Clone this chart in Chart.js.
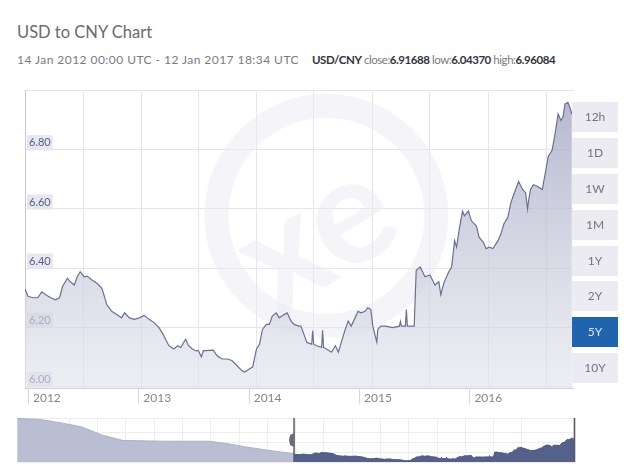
<!DOCTYPE html>
<html>
<head>
<meta charset="utf-8">
<title>USD to CNY Chart</title>
<script src="https://cdn.jsdelivr.net/npm/chart.js@4.4.1/dist/chart.umd.min.js"></script>
<style>
    html, body { margin: 0; padding: 0; background: #fff; }
    body { width: 640px; height: 476px; position: relative; overflow: hidden; font-family: Lato, "Open Sans", sans-serif; }
    .title { position: absolute; left: 17px; top: 22px; font-size: 16.5px; color: #6a6a72; }
    .sub { position: absolute; left: 17px; top: 52px; font-size: 12px; color: #7a7a82; white-space: nowrap; letter-spacing: 0.45px; }
    .sub b { color: #33333b; }
    .sub .pair { margin-left: 13px; font-size: 11.5px; letter-spacing: -0.45px; }
    .main { position: absolute; left: 0; top: 80px; width: 580px; height: 335px; }
    .nav { position: absolute; left: 0; top: 412px; width: 580px; height: 56px; }
    .ranges { position: absolute; left: 572px; top: 102px; width: 46px; }
    .ranges div { height: 30px; line-height: 30px; margin-bottom: 5.9px; text-align: center; font-size: 12px; color: #74747e; background: #ebebf1; }
    .ranges div.on { background: #1f64ad; color: #d9e7f6; }
</style>
</head>
<body>
<div class="title">USD to CNY Chart</div>
<div class="sub">14 Jan 2012 00:00 UTC - 12 Jan 2017 18:34 UTC<span class="pair"><b>USD/CNY</b> close:<b>6.91688</b> low:<b>6.04370</b> high:<b>6.96084</b></span></div>
<div class="main"><canvas id="rateChart"></canvas></div>
<div class="nav"><canvas id="navChart"></canvas></div>
<div class="ranges">
    <div>12h</div><div>1D</div><div>1W</div><div>1M</div><div>1Y</div><div>2Y</div><div class="on">5Y</div><div>10Y</div>
</div>
<script>
// USD/CNY, 5 years (x = decimal year)
var rateDates = [
    2011.973, 2012.000, 2012.045, 2012.089, 2012.125, 2012.161, 2012.205, 2012.250, 2012.286, 2012.313,
    2012.357, 2012.384, 2012.420, 2012.446, 2012.473, 2012.509, 2012.536, 2012.580, 2012.625, 2012.670,
    2012.688, 2012.714, 2012.759, 2012.804, 2012.848, 2012.875, 2012.920, 2012.964, 2013.009, 2013.054,
    2013.098, 2013.143, 2013.188, 2013.223, 2013.277, 2013.321, 2013.357, 2013.384, 2013.429, 2013.455,
    2013.491, 2013.518, 2013.545, 2013.571, 2013.589, 2013.607, 2013.679, 2013.714, 2013.759, 2013.804,
    2013.848, 2013.893, 2013.938, 2013.964, 2014.009, 2014.036, 2014.071, 2014.098, 2014.125, 2014.161,
    2014.188, 2014.214, 2014.250, 2014.277, 2014.321, 2014.348, 2014.384, 2014.411, 2014.455, 2014.473,
    2014.500, 2014.527, 2014.571, 2014.580, 2014.589, 2014.616, 2014.661, 2014.670, 2014.679, 2014.705,
    2014.750, 2014.786, 2014.813, 2014.839, 2014.875, 2014.902, 2014.929, 2014.964, 2014.991, 2015.018,
    2015.054, 2015.080, 2015.107, 2015.125, 2015.161, 2015.170, 2015.196, 2015.241, 2015.304, 2015.366,
    2015.375, 2015.384, 2015.420, 2015.429, 2015.438, 2015.500, 2015.518, 2015.554, 2015.598, 2015.643,
    2015.688, 2015.723, 2015.741, 2015.768, 2015.813, 2015.839, 2015.866, 2015.884, 2015.911, 2015.938,
    2015.955, 2015.991, 2016.018, 2016.063, 2016.089, 2016.125, 2016.152, 2016.179, 2016.214, 2016.259,
    2016.286, 2016.313, 2016.348, 2016.375, 2016.402, 2016.446, 2016.482, 2016.509, 2016.527, 2016.536,
    2016.554, 2016.580, 2016.616, 2016.661, 2016.688, 2016.714, 2016.750, 2016.777, 2016.804, 2016.830,
    2016.848, 2016.866, 2016.893, 2016.911, 2016.929
];
var rateValues = [
    6.330, 6.305, 6.300, 6.300, 6.320, 6.310, 6.300, 6.293, 6.300, 6.338,
    6.366, 6.354, 6.343, 6.371, 6.388, 6.371, 6.373, 6.360, 6.349, 6.332,
    6.310, 6.277, 6.254, 6.243, 6.232, 6.249, 6.232, 6.227, 6.232, 6.240,
    6.227, 6.216, 6.199, 6.177, 6.138, 6.127, 6.138, 6.132, 6.160, 6.138,
    6.127, 6.121, 6.121, 6.100, 6.121, 6.121, 6.123, 6.104, 6.093, 6.093,
    6.088, 6.071, 6.054, 6.049, 6.060, 6.066, 6.127, 6.143, 6.193, 6.210,
    6.210, 6.238, 6.249, 6.232, 6.243, 6.249, 6.221, 6.210, 6.204, 6.204,
    6.177, 6.149, 6.143, 6.188, 6.143, 6.138, 6.132, 6.190, 6.132, 6.127,
    6.116, 6.138, 6.116, 6.149, 6.193, 6.221, 6.204, 6.232, 6.254, 6.249,
    6.254, 6.266, 6.260, 6.204, 6.150, 6.193, 6.204, 6.204, 6.199, 6.204,
    6.220, 6.204, 6.204, 6.260, 6.204, 6.204, 6.393, 6.404, 6.371, 6.377,
    6.343, 6.354, 6.310, 6.349, 6.388, 6.404, 6.493, 6.471, 6.538, 6.593,
    6.577, 6.593, 6.560, 6.543, 6.504, 6.488, 6.466, 6.471, 6.466, 6.493,
    6.516, 6.550, 6.571, 6.620, 6.649, 6.693, 6.666, 6.655, 6.600, 6.627,
    6.666, 6.682, 6.677, 6.666, 6.721, 6.777, 6.799, 6.855, 6.921, 6.899,
    6.910, 6.954, 6.960, 6.943, 6.920
];

// navigator: the 10 year history before the selected window
var navHistDates = [2007.08, 2007.46, 2007.86, 2008.22, 2008.59, 2008.95, 2009.70, 2010.47, 2010.80, 2011.12, 2011.50, 2011.973];
var navHistValues = [7.76, 7.73, 7.58, 7.42, 7.08, 6.87, 6.84, 6.84, 6.74, 6.61, 6.48, 6.33];

var yearTicks = [2012, 2013, 2014, 2015, 2016];
var gridYears = [2012.50, 2013.027, 2013.545, 2014.071, 2014.589, 2015.125, 2015.643, 2016.170, 2016.696];
var rateTicks = [6.00, 6.20, 6.40, 6.60, 6.80];

(function () {
    'use strict';

    var lineColor = '#6a7092';
    var gridColor = '#e5e5ec';

    function points(xs, ys) {
        return xs.map(function (x, i) { return { x: x, y: ys[i] }; });
    }

    function setTicks(values) {
        return function (axis) {
            axis.ticks = values.map(function (v) { return { value: v }; });
        };
    }

    // faint "xe" logo behind the series
    var watermark = {
        id: 'watermark',
        beforeDatasetsDraw: function (chart) {
            var c = chart.ctx, a = chart.chartArea;
            var cx = a.left + (a.right - a.left) * 0.55;
            var cy = a.top + (a.bottom - a.top) * 0.42;
            c.save();
            c.beginPath();
            c.rect(a.left, a.top, a.right - a.left, a.bottom - a.top);
            c.clip();
            c.strokeStyle = 'rgba(232,233,241,0.45)';
            c.lineWidth = 24;
            c.beginPath();
            c.arc(cx, cy, 110, 0, Math.PI * 2);
            c.stroke();
            c.translate(cx - 10, cy + 20);
            c.rotate(-0.55);
            c.fillStyle = 'rgba(232,233,241,0.45)';
            c.font = 'bold 150px Lato, sans-serif';
            c.textAlign = 'center';
            c.textBaseline = 'middle';
            c.fillText('xe', 0, 0);
            c.restore();
        }
    };

    // year tick marks run down beside the labels
    var yearMarks = {
        id: 'yearMarks',
        afterDraw: function (chart) {
            var c = chart.ctx, sx = chart.scales.x, a = chart.chartArea;
            c.save();
            c.strokeStyle = '#d6d6de';
            c.lineWidth = 1;
            c.beginPath();
            sx.ticks.forEach(function (t) {
                var px = Math.round(sx.getPixelForValue(t.value)) + 0.5;
                c.moveTo(px, a.bottom);
                c.lineTo(px, a.bottom + 15);
            });
            c.stroke();
            c.restore();
        }
    };

    var xMin = rateDates[0];
    var xMax = rateDates[rateDates.length - 1] + 0.01;

    new Chart(document.getElementById('rateChart'), {
        type: 'line',
        data: {
            datasets: [{
                label: 'USD/CNY',
                data: points(rateDates, rateValues),
                borderColor: lineColor,
                borderWidth: 1.2,
                pointRadius: 0,
                tension: 0,
                fill: 'start',
                backgroundColor: function (ctx) {
                    var a = ctx.chart.chartArea;
                    if (!a) return 'rgba(200,202,220,0.6)';
                    var g = ctx.chart.ctx.createLinearGradient(0, a.top, 0, a.bottom);
                    g.addColorStop(0, 'rgba(160,165,192,0.8)');
                    g.addColorStop(1, 'rgba(226,227,237,0.6)');
                    return g;
                }
            }]
        },
        options: {
            responsive: true,
            maintainAspectRatio: false,
            animation: false,
            layout: { padding: { top: 7, left: 17, right: 7, bottom: 8 } },
            plugins: { legend: { display: false }, tooltip: { enabled: false } },
            scales: {
                x: {
                    type: 'linear',
                    min: xMin,
                    max: xMax,
                    afterBuildTicks: setTicks(yearTicks),
                    grid: { drawOnChartArea: false, drawTicks: false },
                    border: { display: true, color: '#cfcfd8' },
                    ticks: {
                        autoSkip: false,
                        maxRotation: 0,
                        align: 'start',
                        labelOffset: 5,
                        padding: 2,
                        color: '#85858e',
                        font: { family: 'Lato', size: 12 },
                        callback: function (v) { return String(v); }
                    }
                },
                xg: {
                    type: 'linear',
                    position: 'top',
                    min: xMin,
                    max: xMax,
                    afterBuildTicks: setTicks(gridYears),
                    grid: { color: gridColor, drawTicks: false },
                    border: { display: true, color: gridColor },
                    ticks: { display: false }
                },
                y: {
                    min: 5.993,
                    max: 7.0,
                    afterBuildTicks: setTicks(rateTicks),
                    grid: { color: gridColor, drawTicks: false },
                    border: { display: true, color: '#c9c9d2' },
                    ticks: {
                        mirror: true,
                        padding: 4,
                        labelOffset: -7,
                        color: '#566080',
                        font: { family: 'Lato', size: 11 },
                        showLabelBackdrop: true,
                        backdropColor: '#e7e7f1',
                        backdropPadding: { top: 1, bottom: 1, left: 2, right: 2 },
                        callback: function (v) { return v.toFixed(2); }
                    }
                }
            }
        },
        plugins: [watermark, yearMarks]
    });

    // navigator selection edges and handle
    var selection = {
        id: 'selection',
        afterDatasetsDraw: function (chart) {
            var c = chart.ctx, a = chart.chartArea, sx = chart.scales.x;
            var x0 = sx.getPixelForValue(rateDates[0]);
            var x1 = sx.getPixelForValue(rateDates[rateDates.length - 1]);
            var mid = (a.top + a.bottom) / 2;
            c.save();
            c.strokeStyle = '#5a5a66';
            c.lineWidth = 1.5;
            c.beginPath();
            c.moveTo(x0, a.top); c.lineTo(x0, a.bottom);
            c.moveTo(x1, a.top); c.lineTo(x1, a.bottom);
            c.stroke();
            c.fillStyle = '#6c6c78';
            c.beginPath();
            c.moveTo(x0, mid - 7);
            c.lineTo(x0 - 4, mid - 5);
            c.lineTo(x0 - 5, mid);
            c.lineTo(x0 - 4, mid + 5);
            c.lineTo(x0, mid + 7);
            c.closePath();
            c.fill();
            c.restore();
        }
    };

    new Chart(document.getElementById('navChart'), {
        type: 'line',
        data: {
            datasets: [{
                data: points(navHistDates, navHistValues),
                borderColor: '#aab0c8',
                borderWidth: 1,
                backgroundColor: '#b9bed2',
                pointRadius: 0,
                fill: 'start'
            }, {
                data: points(rateDates, rateValues),
                borderColor: '#4a5580',
                borderWidth: 1,
                backgroundColor: '#55608b',
                pointRadius: 0,
                fill: 'start'
            }]
        },
        options: {
            responsive: true,
            maintainAspectRatio: false,
            animation: false,
            layout: { padding: { top: 6, left: 17, right: 5, bottom: 6 } },
            plugins: { legend: { display: false }, tooltip: { enabled: false } },
            scales: {
                x: {
                    type: 'linear',
                    min: 2007.076,
                    max: xMax,
                    grid: { color: '#ececf1', drawTicks: false },
                    border: { display: false },
                    ticks: { display: false, stepSize: 0.5 }
                },
                y: {
                    min: 6.0,
                    max: 7.78,
                    grid: { color: '#ececf1', drawTicks: false },
                    border: { display: false },
                    ticks: { display: false, stepSize: 0.4 }
                }
            }
        },
        plugins: [selection]
    });
})();
</script>
</body>
</html>
